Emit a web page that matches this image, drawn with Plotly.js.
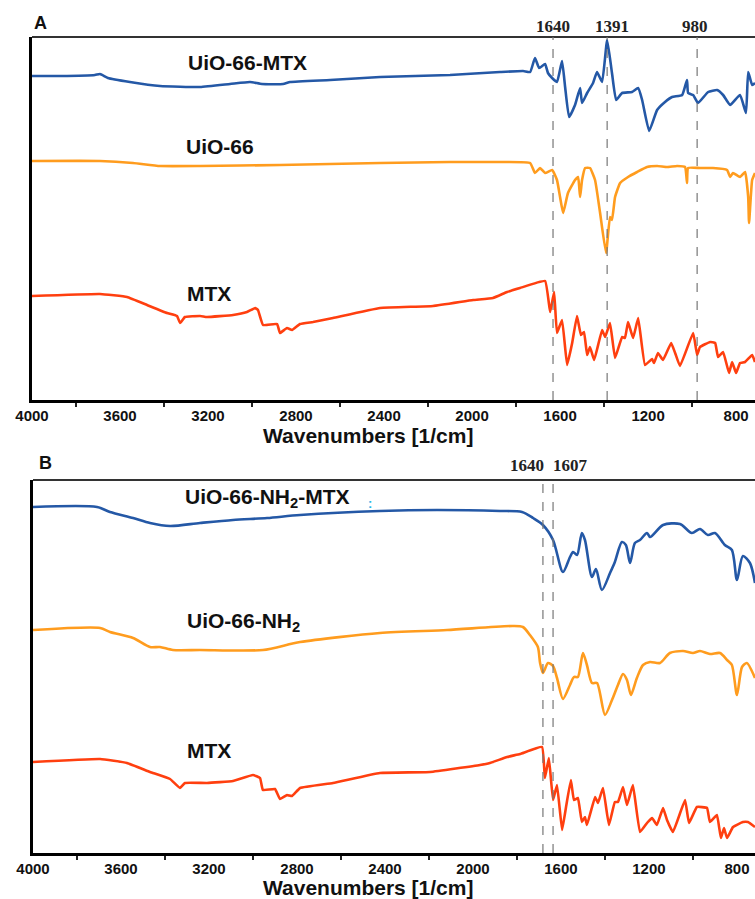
<!DOCTYPE html>
<html>
<head>
<meta charset="utf-8">
<script src="https://cdn.plot.ly/plotly-3.0.1.min.js"></script>
<style>html,body{margin:0;padding:0;background:#fff;}#chart{width:755px;height:899px;}</style>
</head>
<body>
<div id="chart"></div>
<script>
// ---------- Panel A data (wavenumber, offset transmittance in arbitrary units) ----------
const wnA_UiOMTX = [4000,3873,3714,3691,3655,3555,3418,3236,3100,3009,2955,2859,2827,2645,2418,2100,1873,1768,1736,1714,1695,1668,1655,1636,1614,1591,1577,1559,1532,1509,1500,1477,1450,1432,1409,1386,1364,1345,1318,1273,1245,1227,1195,1159,1123,1091,1045,1023,1018,995,973,927,886,859,827,782,755,745,727,714];
const tA_UiOMTX  = [324,324,325,326,322,318,314,313,316,318,316,316,318,320,323,325,328,329,328,342,332,336,327,322,318,339,313,283,295,312,297,307,317,328,318,360,327,300,307,308,312,300,269,290,298,303,305,320,307,305,297,308,310,305,295,305,287,328,315,317];

const wnA_UiO = [4000,3691,3541,3418,3236,2873,2418,2100,1873,1736,1714,1691,1668,1636,1614,1600,1586,1564,1532,1518,1509,1500,1486,1464,1441,1418,1391,1373,1364,1350,1327,1291,1250,1205,1159,1114,1068,1032,1023,1018,964,905,841,827,814,782,759,745,741,727,714];
const tA_UiO  = [239,239,237,234,234,235,237,238,238,237,227,232,227,230,220,203,187,207,220,223,203,220,232,232,220,187,147,183,180,203,217,223,228,233,234,233,234,233,217,232,232,232,230,223,227,223,228,203,177,220,227];

const wnA_MTX = [4000,3691,3568,3477,3386,3341,3327,3305,3236,3205,3086,3023,2986,2973,2950,2886,2873,2841,2818,2782,2723,2632,2418,2177,1995,1905,1841,1782,1668,1645,1627,1614,1591,1568,1545,1523,1505,1491,1477,1464,1445,1409,1395,1373,1350,1318,1305,1291,1268,1245,1214,1182,1173,1155,1132,1095,1077,1055,995,977,964,918,895,882,859,832,818,800,782,759,727,714];
const tA_MTX  = [104,106,103,95,87,84,77,83,84,83,85,88,92,90,75,76,67,72,70,76,78,82,92,94,100,102,108,112,119,88,108,67,80,35,57,84,65,68,45,53,40,70,63,77,42,63,62,78,62,82,35,41,37,47,40,57,47,34,67,45,53,58,57,43,48,27,38,27,37,38,45,38];

// ---------- Panel B data ----------
const wnB_NH2MTX = [4000,3709,3650,3545,3468,3377,3241,3091,2936,2786,2423,2164,1877,1777,1727,1682,1636,1591,1559,1545,1527,1505,1491,1459,1441,1414,1377,1355,1323,1305,1286,1264,1241,1209,1195,1136,1059,1005,968,932,900,855,823,800,773,741,718];
const tB_NH2MTX  = [346,346,341,335,330,327,330,333,335,338,342,343,342,341,335,328,313,281,296,301,298,320,313,276,284,263,280,291,311,308,290,310,313,320,316,328,329,320,324,318,320,308,303,273,297,290,270];

const wnB_NH2 = [4000,3695,3650,3545,3468,3423,3364,3241,2955,2786,2423,2118,1818,1773,1741,1705,1695,1682,1659,1636,1618,1591,1559,1541,1523,1500,1482,1459,1436,1400,1368,1341,1318,1300,1282,1255,1227,1195,1150,1105,1045,1000,968,923,877,845,823,800,777,755,718];
const tB_NH2  = [223,225,221,215,206,206,203,203,203,211,220,223,227,226,218,206,190,180,190,187,175,154,168,176,176,200,188,170,170,138,153,168,179,173,158,175,188,191,190,200,202,200,202,199,200,193,188,158,186,190,175];

const wnB_MTX = [4000,3695,3573,3468,3377,3332,3309,3209,3091,3000,2968,2955,2900,2877,2845,2823,2786,2636,2423,2195,1968,1923,1845,1786,1686,1673,1655,1636,1618,1595,1577,1555,1541,1523,1505,1491,1482,1445,1432,1409,1382,1355,1341,1318,1300,1273,1241,1209,1186,1164,1136,1118,1091,1036,1018,982,936,923,891,873,859,845,818,773,750,718];
const tB_MTX  = [91,94,90,81,74,65,70,70,72,78,75,63,64,54,58,57,65,70,80,81,88,90,96,99,106,75,95,53,68,23,46,73,53,55,31,36,28,56,50,65,28,51,51,66,48,68,21,30,35,28,45,33,21,53,30,46,45,31,38,15,25,15,26,31,31,26];

// marked bands (positions as drawn) and their labels
const bandsA = [1632, 1386, 977];
const bandLabelsA = ["1640", "1391", "980"];
const bandsB = [1682, 1636];
const bandLabelsB = ["1640", "1607"];

const seriesLabelsA = ["UiO-66-MTX", "UiO-66", "MTX"];
const seriesLabelsB = ["UiO-66-NH<sub>2</sub>-MTX", "UiO-66-NH<sub>2</sub>", "MTX"];
const xTitle = "Wavenumbers [1/cm]";

// ---------- styling ----------
const W = 755, H = 899;
const BLUE = "#2458a6", ORANGE = "#ff9c1e", RED = "#ff3f0f";
const SANS = "Arial, 'Liberation Sans', sans-serif";
const SERIF = "'Times New Roman', 'Liberation Serif', serif";
const px = v => v / W;
const py = v => 1 - v / H;

function line(x, y, color, xa, ya, smooth) {
  return {x: x, y: y, type: "scatter", mode: "lines", xaxis: xa, yaxis: ya,
          line: {color: color, width: 2.6, shape: "spline", smoothing: smooth}, hoverinfo: "skip"};
}

const data = [
  line(wnA_UiOMTX, tA_UiOMTX, BLUE, "x", "y", 0.4),
  line(wnA_UiO, tA_UiO, ORANGE, "x", "y", 0.4),
  line(wnA_MTX, tA_MTX, RED, "x", "y", 0.3),
  line(wnB_NH2MTX, tB_NH2MTX, BLUE, "x2", "y2", 0.8),
  line(wnB_NH2, tB_NH2, ORANGE, "x2", "y2", 0.7),
  line(wnB_MTX, tB_MTX, RED, "x2", "y2", 0.3)
];

function xaxisDef(domain, range, anchor) {
  return {
    domain: domain, range: range, anchor: anchor,
    showline: true, linecolor: "#000", linewidth: 3,
    showgrid: false, zeroline: false,
    tick0: 0, dtick: 400, ticks: "",
    tickfont: {family: SANS, size: 15, color: "#111", weight: "bold"},
    minor: {dtick: 200, ticks: "outside", ticklen: 4, tickwidth: 2, tickcolor: "#222", showgrid: false}
  };
}
function yaxisDef(domain, range, anchor) {
  return {
    domain: domain, range: range, anchor: anchor,
    showline: true, linecolor: "#000", linewidth: 3,
    showgrid: false, zeroline: false, showticklabels: false, ticks: ""
  };
}

const shapes = [];
// top frame lines
shapes.push({type: "line", xref: "paper", yref: "paper", x0: px(32), x1: 1, y0: py(37), y1: py(37), line: {color: "#333", width: 2}});
shapes.push({type: "line", xref: "paper", yref: "paper", x0: px(33), x1: 1, y0: py(480), y1: py(480), line: {color: "#333", width: 2}});
bandsA.forEach(b => shapes.push({type: "line", xref: "x", yref: "y domain", x0: b, x1: b, y0: 0, y1: 1, line: {color: "#777", width: 1.2, dash: "dash"}}));
bandsB.forEach(b => shapes.push({type: "line", xref: "x2", yref: "y2 domain", x0: b, x1: b, y0: 0, y1: 1, line: {color: "#777", width: 1.2, dash: "dash"}}));

function ann(text, x, y, size, family, weight, color) {
  return {text: text, xref: "paper", yref: "paper", x: px(x), y: py(y), xanchor: "center", yanchor: "middle",
          showarrow: false, font: {family: family || SANS, size: size, color: color || "#111", weight: weight || "bold"}};
}

const annotations = [
  ann("A", 40, 23, 18),
  ann("B", 45, 463, 18),
  ann(seriesLabelsA[0], 247, 63, 21),
  ann(seriesLabelsA[1], 220, 147, 21),
  ann(seriesLabelsA[2], 209, 293, 21),
  ann(seriesLabelsB[0], 267, 498, 21),
  ann(seriesLabelsB[1], 243, 622, 21),
  ann(seriesLabelsB[2], 209, 750, 21),
  ann(":", 370, 503, 13, SANS, "bold", "#29b6e8"),
  ann(xTitle, 368, 436, 21),
  ann(xTitle, 368, 887, 21),
  ann(bandLabelsA[0], 553, 27, 17, SERIF, "bold", "#222"),
  ann(bandLabelsA[1], 612, 27, 17, SERIF, "bold", "#222"),
  ann(bandLabelsA[2], 695, 27, 17, SERIF, "bold", "#222"),
  ann(bandLabelsB[0], 527, 465, 17, SERIF, "bold", "#222"),
  ann(bandLabelsB[1], 570, 465, 17, SERIF, "bold", "#222")
];

const layout = {
  width: W, height: H, margin: {l: 0, r: 0, t: 0, b: 0},
  paper_bgcolor: "#fff", plot_bgcolor: "#fff", showlegend: false,
  xaxis: xaxisDef([px(32), 1], [4000, 714], "y"),
  yaxis: yaxisDef([py(400), py(37)], [0, 363], "x"),
  xaxis2: xaxisDef([px(33), 1], [4000, 718], "y2"),
  yaxis2: yaxisDef([py(853), py(480)], [0, 373], "x2"),
  shapes: shapes, annotations: annotations
};

Plotly.newPlot("chart", data, layout, {staticPlot: true, displayModeBar: false});
</script>
</body>
</html>
